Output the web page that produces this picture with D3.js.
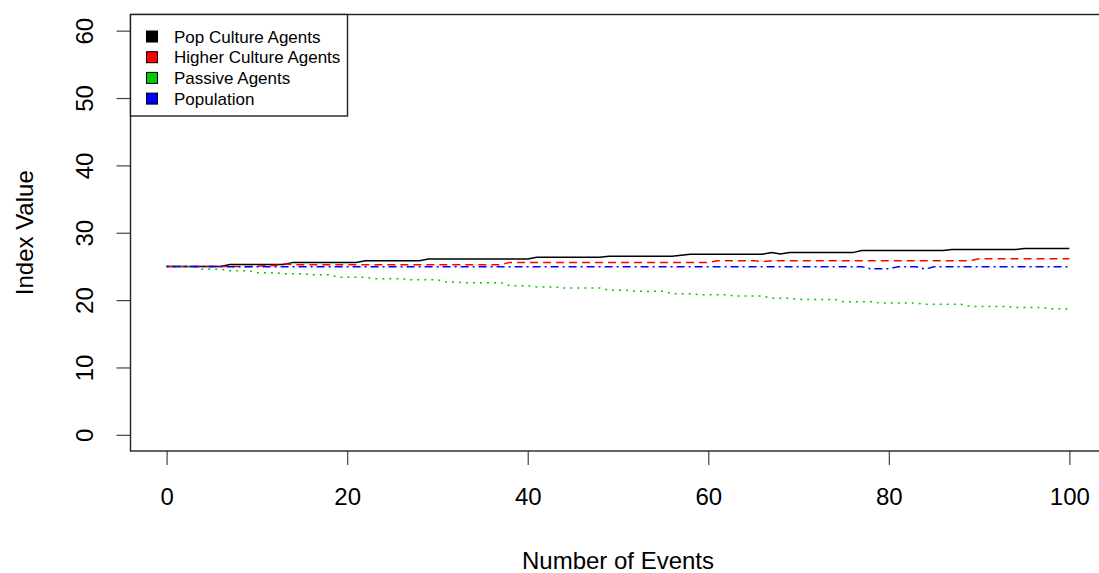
<!DOCTYPE html>
<html>
<head>
<meta charset="utf-8">
<script src="https://cdn.jsdelivr.net/npm/d3@7"></script>
<style>
  html, body { margin: 0; padding: 0; background: #fff; }
  svg { display: block; font-family: "Liberation Sans", Arial, sans-serif; }
</style>
</head>
<body>
<svg id="chart" width="1099" height="573"></svg>
<script>
// --- Data (index value per event) ---
const events = d3.range(0, 101);

const popCulture = [
  25.0, 25.0, 25.0, 25.0, 25.0, 25.0, 25.0, 25.3, 25.3, 25.3,
  25.3, 25.3, 25.3, 25.3, 25.6, 25.6, 25.6, 25.6, 25.6, 25.6,
  25.6, 25.6, 25.85, 25.85, 25.85, 25.85, 25.85, 25.85, 25.85, 26.1,
  26.1, 26.1, 26.1, 26.1, 26.1, 26.1, 26.1, 26.1, 26.1, 26.1,
  26.1, 26.35, 26.35, 26.35, 26.35, 26.35, 26.35, 26.35, 26.35, 26.5,
  26.5, 26.5, 26.5, 26.5, 26.5, 26.5, 26.5, 26.65, 26.8, 26.8,
  26.8, 26.8, 26.8, 26.8, 26.8, 26.8, 26.8, 27.05, 26.85, 27.05,
  27.05, 27.05, 27.05, 27.05, 27.05, 27.05, 27.05, 27.35, 27.35, 27.35,
  27.35, 27.35, 27.35, 27.35, 27.35, 27.35, 27.35, 27.5, 27.5, 27.5,
  27.5, 27.5, 27.5, 27.5, 27.5, 27.65, 27.65, 27.65, 27.65, 27.65,
  27.65
];

const higherCulture = [
  25.0, 25.0, 25.0, 25.0, 25.0, 25.0, 25.0, 25.0, 25.0, 25.0,
  25.0, 25.15, 25.15, 25.4, 25.25, 25.25, 25.25, 25.25, 25.25, 25.25,
  25.25, 25.25, 25.25, 25.25, 25.25, 25.25, 25.25, 25.25, 25.25, 25.25,
  25.25, 25.25, 25.25, 25.25, 25.25, 25.25, 25.25, 25.25, 25.6, 25.6,
  25.6, 25.6, 25.6, 25.6, 25.6, 25.6, 25.6, 25.6, 25.6, 25.6,
  25.6, 25.6, 25.6, 25.6, 25.6, 25.6, 25.6, 25.6, 25.6, 25.6,
  25.6, 25.85, 25.85, 25.85, 25.85, 25.85, 25.7, 25.85, 25.85, 25.85,
  25.85, 25.85, 25.85, 25.85, 25.85, 25.85, 25.85, 25.85, 25.85, 25.85,
  25.85, 25.85, 25.85, 25.85, 25.85, 25.85, 25.85, 25.85, 25.85, 25.85,
  26.15, 26.15, 26.15, 26.15, 26.15, 26.15, 26.15, 26.15, 26.15, 26.15,
  26.15
];

const passive = [
  25.0, 24.95, 24.95, 24.95, 24.57, 24.57, 24.57, 24.37, 24.37, 24.37,
  24.07, 24.07, 24.07, 23.92, 23.92, 23.92, 23.77, 23.77, 23.77, 23.38,
  23.38, 23.38, 23.38, 23.18, 23.18, 23.18, 23.18, 23.03, 23.03, 23.03,
  23.03, 22.69, 22.69, 22.59, 22.59, 22.59, 22.59, 22.59, 22.15, 22.15,
  22.15, 21.95, 21.95, 21.95, 21.8, 21.8, 21.8, 21.8, 21.8, 21.45,
  21.45, 21.45, 21.3, 21.3, 21.3, 21.3, 20.95, 20.95, 20.95, 20.8,
  20.8, 20.8, 20.8, 20.6, 20.6, 20.6, 20.6, 20.28, 20.28, 20.28,
  20.1, 20.1, 20.1, 20.1, 20.1, 19.75, 19.75, 19.75, 19.75, 19.57,
  19.57, 19.57, 19.57, 19.57, 19.37, 19.37, 19.37, 19.37, 19.37, 19.07,
  19.07, 19.07, 19.07, 19.07, 18.92, 18.92, 18.92, 18.92, 18.72, 18.72,
  18.68
];

const population = [
  25.0, 25.0, 25.0, 25.0, 25.0, 25.0, 25.0, 24.95, 24.95, 24.95,
  24.95, 24.95, 24.95, 24.95, 24.95, 24.95, 24.95, 24.95, 24.95, 24.95,
  24.95, 24.95, 24.95, 24.95, 24.95, 24.95, 24.95, 24.95, 24.95, 24.95,
  24.95, 24.95, 24.95, 24.95, 24.95, 24.95, 24.95, 24.95, 24.95, 24.95,
  24.95, 24.95, 24.95, 24.95, 24.95, 24.95, 24.95, 24.95, 24.95, 24.95,
  24.95, 24.95, 24.95, 24.95, 24.95, 24.95, 24.95, 24.95, 24.95, 24.95,
  24.95, 24.95, 24.95, 24.95, 24.95, 24.95, 24.95, 24.95, 24.95, 24.95,
  24.95, 24.95, 24.95, 24.95, 24.95, 24.95, 24.95, 24.95, 24.65, 24.65,
  24.65, 24.95, 24.95, 24.95, 24.6, 24.95, 24.95, 24.95, 24.95, 24.95,
  24.95, 24.95, 24.95, 24.95, 24.95, 24.95, 24.95, 24.95, 24.95, 24.95,
  24.95
];

const seriesNames  = ['Pop Culture Agents', 'Higher Culture Agents', 'Passive Agents', 'Population'];
const seriesColors = ['#000000', '#ff0000', '#00cd00', '#0000ff'];
const seriesDash   = [null, '8,5', '2,5', '2,4,8,4'];
const seriesValues = [popCulture, higherCulture, passive, population];

const xTicks = [0, 20, 40, 60, 80, 100];
const yTicks = [0, 10, 20, 30, 40, 50, 60];

// --- Layout (R-style plot region, 4% axis extension) ---
const svg = d3.select('#chart');
const box = { left: 130.5, top: 14.5, right: 1105.5, bottom: 451 };

const x = d3.scaleLinear().domain([-4, 104]).range([box.left, box.right]);
const y = d3.scaleLinear().domain([-2.4, 62.4]).range([box.bottom, box.top]);

// --- Lines ---
const line = d3.line()
  .x((d, i) => x(events[i]))
  .y(d => y(d));

seriesValues.forEach((vals, s) => {
  svg.append('path')
    .datum(vals)
    .attr('d', line)
    .attr('fill', 'none')
    .attr('stroke', seriesColors[s])
    .attr('stroke-width', 1.5)
    .attr('stroke-dasharray', seriesDash[s]);
});

// --- Axes ---
const xAxis = svg.append('g')
  .attr('transform', `translate(0, ${box.bottom})`)
  .call(d3.axisBottom(x).tickValues(xTicks).tickSize(14).tickPadding(23));
xAxis.select('.domain').remove();
xAxis.selectAll('.tick line').attr('stroke', '#444').attr('stroke-width', 1.2);
xAxis.selectAll('.tick text')
  .attr('font-size', 24)
  .attr('font-family', '"Liberation Sans", Arial, sans-serif')
  .attr('fill', '#000');

const yAxis = svg.append('g')
  .attr('transform', `translate(${box.left}, 0)`)
  .call(d3.axisLeft(y).tickValues(yTicks).tickSize(14));
yAxis.select('.domain').remove();
yAxis.selectAll('.tick line').attr('stroke', '#444').attr('stroke-width', 1.2);
yAxis.selectAll('.tick text')
  .attr('x', null)
  .attr('y', -45.5)
  .attr('dy', '0.35em')
  .attr('text-anchor', 'middle')
  .attr('transform', 'rotate(-90)')
  .attr('font-size', 24)
  .attr('font-family', '"Liberation Sans", Arial, sans-serif')
  .attr('fill', '#000');

// --- Plot box ---
svg.append('rect')
  .attr('x', box.left).attr('y', box.top)
  .attr('width', box.right - box.left).attr('height', box.bottom - box.top)
  .attr('fill', 'none')
  .attr('stroke', '#222')
  .attr('stroke-width', 1.4);

// --- Axis titles ---
svg.append('text')
  .attr('x', (box.left + box.right) / 2)
  .attr('y', 569)
  .attr('text-anchor', 'middle')
  .attr('font-size', 24)
  .attr('fill', '#000')
  .text('Number of Events');

svg.append('text')
  .attr('transform', `translate(33, ${(box.top + box.bottom) / 2}) rotate(-90)`)
  .attr('text-anchor', 'middle')
  .attr('font-size', 24)
  .attr('fill', '#000')
  .text('Index Value');

// --- Legend ---
const legend = svg.append('g');
legend.append('rect')
  .attr('x', box.left).attr('y', box.top)
  .attr('width', 217).attr('height', 101.5)
  .attr('fill', '#fff')
  .attr('stroke', '#222')
  .attr('stroke-width', 1.4);

seriesNames.forEach((name, i) => {
  const cy = 36.5 + i * 20.7;
  legend.append('rect')
    .attr('x', 146.5).attr('y', cy - 5.5)
    .attr('width', 11).attr('height', 11)
    .attr('fill', seriesColors[i])
    .attr('stroke', '#000')
    .attr('stroke-width', 1);
  legend.append('text')
    .attr('x', 174)
    .attr('y', cy)
    .attr('dy', '0.36em')
    .attr('font-size', 17)
    .attr('fill', '#000')
    .text(name);
});
</script>
</body>
</html>
